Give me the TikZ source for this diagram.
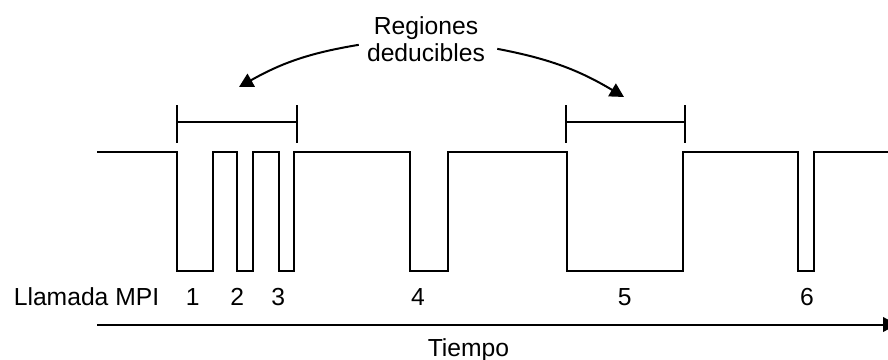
\documentclass[tikz,border=0pt]{standalone}
\usepackage{fontspec}
\setmainfont{Liberation Sans}
\usetikzlibrary{arrows.meta}
\usetikzlibrary{positioning}
\tikzset{lbl/.style={font=\fontsize{18.5pt}{20pt}\selectfont, inner sep=6pt}}
\tikzset{senal/.style={line width=1.5pt, line join=miter}}
\tikzset{flecha/.style={line width=1.5pt, -{Triangle[length=10.5pt,width=11pt]}}}

\begin{document}
\begin{tikzpicture}[x=0.75pt,y=-0.75pt]
\useasboundingbox (0,0) rectangle (888,360);

\draw[senal] (97,152)
  \foreach \a/\b in {177.3/213.3, 236.7/252.7, 278.7/294.3, 410/448.3, 567.3/683.3, 797.7/814.3}
  { -- (\a,152) -- (\a,271) -- (\b,271) -- (\b,152) } -- (890,152);

\foreach \l/\r in {177.3/296.7, 565.7/684.7}
 {
 \draw[senal] (\l,105) -- (\l,143) (\l,122) -- (\r,122) (\r,105) -- (\r,143);
 }

\node[lbl, align=center] (reg) at (426,39.5) {Regiones\\deducibles};
\coordinate (pA) at (239,87);
\coordinate (pB) at (624,97);
\draw[flecha] ([yshift=-4pt]reg.west) to[bend right=10] (pA);
\draw[flecha] ([xshift=3pt,yshift=-7pt]reg.east) to[bend left=10] (pB);

\node[lbl] (mpi) at (86.5,297) {Llamada MPI};
\foreach \n/\x in {1/192.7, 2/237.3, 3/278.3, 4/418, 5/624.7, 6/807}
  \node[lbl] (c\n) at (\x,297) {\n};

\coordinate (t0) at (97,324.5);
\coordinate (t1) at (897,324.5);
\draw[flecha] (t0) -- (t1);
\node[lbl, anchor=base] (tiempo) at (468.5,356.5) {Tiempo};

\end{tikzpicture}
\end{document}
